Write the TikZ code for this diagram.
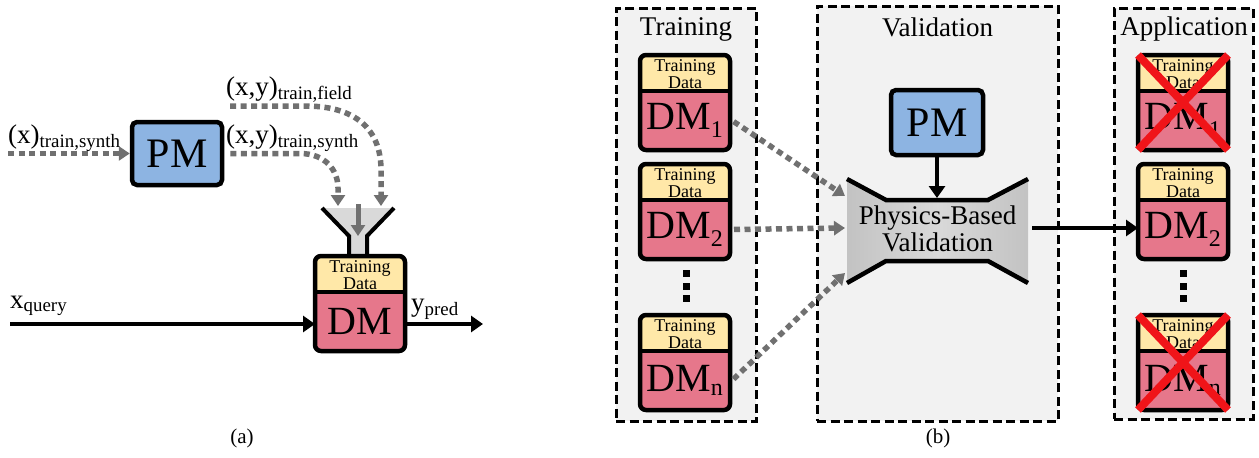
\documentclass[tikz,border=0pt]{standalone}
\usepackage{fontspec}
\setmainfont{Liberation Serif}
\usetikzlibrary{arrows.meta}

\definecolor{pmblue}{HTML}{8DB4E2}
\definecolor{dmpink}{HTML}{E6778B}
\definecolor{tdyellow}{HTML}{FFE8A8}
\definecolor{panelgray}{HTML}{F2F2F2}
\definecolor{flowgray}{HTML}{707070}
\definecolor{funnelgray}{HTML}{D9D9D9}
\definecolor{crossred}{HTML}{F01419}
\definecolor{shA}{gray}{0.88}
\definecolor{shB}{gray}{0.70}
\definecolor{shC}{gray}{0.85}
\pgfdeclarehorizontalshading{pbvshade}{100bp}{color(0bp)=(shA); color(7bp)=(shB); color(50bp)=(shC); color(93bp)=(shB); color(100bp)=(shA)}

\newcommand\fsz[1]{\fontsize{#1}{#1}\selectfont}

% data-model block: yellow "Training Data" strip above a pink model body
\newcommand\DMblock[4]{%
  \node[dmbody, anchor=north west] (#1) at (#2,#3) {};
  \node[tdlabel] (#1-td) at ([yshift=-19pt]#1.north) {Training\\Data};
  \node[dmlabel] (#1-dm) at ([yshift=-65.5pt]#1.north) {#4};
}

\tikzset{
  dmbody/.style={rectangle, rounded corners=6pt, draw, line width=4.5pt, fill=dmpink,
    minimum width=90pt, minimum height=95pt, inner sep=0pt, outer sep=0pt,
    path picture={
      \fill[tdyellow] (path picture bounding box.north west) rectangle ([yshift=-36pt]path picture bounding box.north east);
      \draw[line width=3.8pt] ([yshift=-36pt]path picture bounding box.north west) -- ([yshift=-36pt]path picture bounding box.north east);
    }},
  tdlabel/.style={inner sep=0pt, align=center, font={\fontsize{18}{15}\selectfont}},
  dmlabel/.style={rectangle, inner sep=0pt, outer sep=0pt, minimum width=94pt, minimum height=59pt, font=\fsz{40}},
  pmbox/.style={rectangle, rounded corners=5pt, draw, line width=4.5pt, fill=pmblue, inner sep=0pt, font=\fsz{42}},
  panel/.style={rectangle, draw, line width=3pt, dash pattern=on 9pt off 4.5pt, fill=panelgray, inner sep=0pt},
  heading/.style={inner sep=0pt, font=\fsz{27}},
  flowlabel/.style={inner sep=0pt, anchor=base west, font=\fsz{27}},
  flow/.style={draw=flowgray, line width=5.5pt, dash pattern=on 6pt off 4.5pt,
    -{Triangle[length=11pt,width=14pt,fill=flowgray]}},
  flowsolid/.style={draw=flowgray, line width=5pt, -{Triangle[length=11pt,width=14pt,fill=flowgray]}},
  solidarrow/.style={draw=black, line width=4.5pt, -{Triangle[length=12pt,width=16pt]}},
  dotsq/.style={fill=black, minimum size=7pt, inner sep=0pt},
  crossline/.style={draw=crossred, line width=8pt},
  caption/.style={inner sep=0pt, font=\fsz{21}}
}

\begin{document}
\begin{tikzpicture}[x=1pt, y=-1pt]
\useasboundingbox (0,0) rectangle (1259,458);
\fill[white] (0,0) rectangle (1259,458);

% ---------------- (a) ----------------
\node[pmbox, minimum width=90pt, minimum height=63pt] (pma) at (177,153.5) {PM};

% funnel feeding the training data
\fill[funnelgray] (322,208) -- (394,208) -- (367,236) -- (367,254) -- (349,254) -- (349,236) -- cycle;
\draw[line width=4pt] (322,208) -- (349,236) -- (349,254);
\draw[line width=4pt] (394,208) -- (367,236) -- (367,254);

\DMblock{dma}{315}{256}{DM}

\coordinate (xin) at (8,153.5);
\coordinate (fieldin) at (230,106);
\coordinate (funnelL) at (338,206);
\coordinate (funnelR) at (381,206);
\coordinate (funneltop) at (358,204);
\coordinate (funnelin) at (358,236);
\coordinate (qin) at (10,324);
\coordinate (pout) at (483,324);

\draw[flow] (xin) -- (pma.west);
\draw[flow, shorten <=6pt] (pma.east) -- (300,153.5) .. controls (325,153.5) and (338,170) .. (338,188) -- (funnelL);
\draw[flow] (fieldin) -- (305,106) .. controls (362,106) and (381,135) .. (381,170) -- (funnelR);
\draw[flowsolid] (funneltop) -- (funnelin);

\draw[solidarrow] (qin) -- (qin -| dma.west);
\draw[solidarrow] (pout -| dma.east) -- (pout);

\node[flowlabel] (lxs) at (8,143) {(x)\textsubscript{train,synth}};
\node[flowlabel] (lxys) at (226,143) {(x,y)\textsubscript{train,synth}};
\node[flowlabel] (lxyf) at (226,95) {(x,y)\textsubscript{train,field}};
\node[flowlabel] (lq) at (10,308) {x\textsubscript{query}};
\node[flowlabel] (lp) at (411,311) {y\textsubscript{pred}};

\node[caption] (capa) at (242,438) {(a)};

% ---------------- (b) ----------------
\node[panel, minimum width=140pt, minimum height=413pt] (ptrain) at (686,214.5) {};
\node[panel, minimum width=241pt, minimum height=415pt] (pval) at (937.5,213.5) {};
\node[panel, minimum width=139pt, minimum height=411pt] (papp) at (1183.5,213.5) {};

\node[heading, anchor=base] (htrain) at (686,35) {Training};
\node[heading, anchor=base] (hval) at (937.5,36) {Validation};
\node[heading, anchor=base] (happ) at (1184,35) {Application};

% training column
\DMblock{tr1}{640}{55}{DM\textsubscript{\fsz{24}1}}
\DMblock{tr2}{640}{164}{DM\textsubscript{\fsz{24}2}}
\DMblock{trn}{640}{315}{DM\textsubscript{\fsz{24}n}}
\node[dotsq] (trd1) at (686,273.5) {};
\node[dotsq] (trd2) at (686,286) {};
\node[dotsq] (trd3) at (686,298.5) {};

% validation
\node[pmbox, minimum width=92pt, minimum height=65pt] (pmv) at (937,122.5) {PM};
\path[shading=pbvshade] (847,179) -- (886,200) -- (988,200) -- (1028,179) -- (1028,283) -- (988,261) -- (886,261) -- (847,283) -- cycle;
\draw[line width=4.5pt] (847,179) -- (886,200) -- (988,200) -- (1028,179);
\draw[line width=4.5pt] (847,283) -- (886,261) -- (988,261) -- (1028,283);
\node[inner sep=0pt, align=center, font={\fontsize{27}{27}\selectfont}] (pbv) at (937.5,229) {Physics-Based\\Validation};

\coordinate (pbvtop) at (937,198);
\coordinate (pbvin1) at (845,196);
\coordinate (pbvin2) at (845,228);
\coordinate (pbvin3) at (845,273);
\coordinate (pbvout) at (1032,228);

\draw[solidarrow] (pmv.south) -- (pbvtop);
\draw[flow, shorten <=2pt] (tr1-dm.east) -- (pbvin1);
\draw[flow, shorten <=2pt] (tr2-dm.east) -- (pbvin2);
\draw[flow, shorten <=2pt] (trn-dm.east) -- (pbvin3);

% application column
\DMblock{ap1}{1138}{55}{DM\textsubscript{\fsz{24}1}}
\DMblock{ap2}{1138}{164}{DM\textsubscript{\fsz{24}2}}
\DMblock{apn}{1138}{315}{DM\textsubscript{\fsz{24}n}}
\node[dotsq] (apd1) at (1183,273.5) {};
\node[dotsq] (apd2) at (1183,286) {};
\node[dotsq] (apd3) at (1183,298.5) {};

\draw[solidarrow] (pbvout) -- (pbvout -| ap2.west);

% rejected models
\draw[crossline] (ap1.north west) -- (ap1.south east);
\draw[crossline] (ap1.north east) -- (ap1.south west);
\draw[crossline] (apn.north west) -- (apn.south east);
\draw[crossline] (apn.north east) -- (apn.south west);

\node[caption] (capb) at (938,438) {(b)};
\end{tikzpicture}
\end{document}
